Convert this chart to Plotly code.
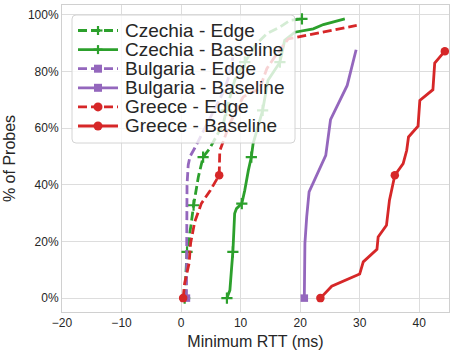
import plotly.graph_objects as go

# ---- data ----
czechia_edge_x = [0.6, 1.0, 1.7, 2.1, 2.9, 3.7, 4.8, 7.1, 7.6, 9.0, 10.7, 12.7, 14.4, 16.6, 18.3, 20.3]
czechia_edge_y = [0, 16.3, 26.3, 32.8, 42.8, 49.8, 52.8, 61.6, 66.3, 76.9, 83.3, 89.8, 93.4, 95.7, 98.1, 98.6]

czechia_base_x = [7.7, 8.2, 8.5, 8.7, 9.0, 9.3, 10.2, 10.7, 11.3, 11.8, 12.1, 13.2, 13.7, 14.6, 16.6, 17.4, 19.1, 22.2, 23.9, 27.5]
czechia_base_y = [0, 2.8, 11, 16.3, 29.9, 31.6, 33.4, 38.1, 45.1, 49.8, 54.6, 63, 66.3, 76.9, 83.3, 91, 93.9, 95.1, 96.6, 98.6]

bulgaria_edge_x = [0.9, 0.9, 1.0, 1.0, 1.2, 1.5, 2.3, 5.1, 7.1, 8.0, 8.7]
bulgaria_edge_y = [0, 10, 25, 40, 47, 50, 53, 64.6, 72.8, 78, 85]

bulgaria_base_x = [20.7, 20.7, 20.8, 21.1, 21.5, 24.3, 25.1, 27.9, 29.4]
bulgaria_base_y = [0, 8, 19.4, 28.7, 37.5, 50.4, 63, 75.1, 87.7]

greece_edge_x = [0.35, 0.6, 1.35, 1.6, 2.3, 3.4, 4.9, 6.4, 6.5, 8.2, 10.4, 13.2, 14.4, 16.0, 18.0, 29.5]
greece_edge_y = [0, 5.3, 12.3, 19.4, 27, 33.4, 38, 43.4, 52, 61.7, 71, 74, 81, 86, 91.5, 96.3]

greece_base_x = [23.4, 25.3, 30.0, 30.6, 32.9, 33.1, 34.5, 35.0, 35.9, 37.3, 37.9, 38.2, 39.8, 40.1, 42.3, 42.6, 44.3]
greece_base_y = [0, 4.2, 8.5, 12.8, 17.2, 21.6, 25.7, 34.6, 43.4, 47.5, 52.2, 56.9, 60.7, 69.8, 73.6, 83, 87.2]

series_names = ["Czechia - Edge", "Czechia - Baseline", "Bulgaria - Edge",
                "Bulgaria - Baseline", "Greece - Edge", "Greece - Baseline"]

x_ticks = [-20, -10, 0, 10, 20, 30, 40]
y_ticks = [0, 20, 40, 60, 80, 100]
y_tick_labels = ["0%", "20%", "40%", "60%", "80%", "100%"]

# ---- style ----
GREEN = "#2ca02c"
PURPLE = "#9467bd"
RED = "#d62728"
FONT = "Liberation Sans, Arial, sans-serif"
TXT = "#262626"
DASH = "9px,4px"
LW = 2.8

W, H = 454, 354
ML, MR, MT, MB = 62, 5, 5, 42
PW, PH = W - ML - MR, H - MT - MB

series = [
    (czechia_edge_x, czechia_edge_y, GREEN, DASH, "cross", [0, 1, 3, 5, 8, 10, 15]),
    (czechia_base_x, czechia_base_y, GREEN, "solid", "cross", [0, 3, 6, 9, 12, 14]),
    (bulgaria_edge_x, bulgaria_edge_y, PURPLE, DASH, "square", [0]),
    (bulgaria_base_x, bulgaria_base_y, PURPLE, "solid", "square", [0]),
    (greece_edge_x, greece_edge_y, RED, DASH, "circle", [0, 7]),
    (greece_base_x, greece_base_y, RED, "solid", "circle", [0, 8, 16]),
]


def marker_style(sym, color):
    if sym == "cross":
        return dict(symbol="cross-thin", size=8, color=color, line=dict(color=color, width=2.2))
    if sym == "square":
        return dict(symbol="square", size=7.5, color=color, line=dict(width=0))
    return dict(symbol="circle", size=8.5, color=color, line=dict(width=0))


fig = go.Figure()
for xs, ys, color, dash, sym, idx in series:
    fig.add_trace(go.Scatter(x=xs, y=ys, mode="lines", showlegend=False,
                             line=dict(color=color, width=LW, dash=dash)))
    fig.add_trace(go.Scatter(x=[xs[i] for i in idx], y=[ys[i] for i in idx], mode="markers",
                             showlegend=False, marker=marker_style(sym, color)))


# ---- hand-drawn legend box (pixel layout converted to paper coordinates) ----
def px(x):
    return (x - ML) / PW


def py(y):
    return (MT + PH - y) / PH


shapes = []
bx0, by0, bx1, by1, r = 72, 15, 295, 143, 4
path = (f"M{px(bx0 + r)},{py(by0)} L{px(bx1 - r)},{py(by0)} Q{px(bx1)},{py(by0)} {px(bx1)},{py(by0 + r)} "
        f"L{px(bx1)},{py(by1 - r)} Q{px(bx1)},{py(by1)} {px(bx1 - r)},{py(by1)} "
        f"L{px(bx0 + r)},{py(by1)} Q{px(bx0)},{py(by1)} {px(bx0)},{py(by1 - r)} "
        f"L{px(bx0)},{py(by0 + r)} Q{px(bx0)},{py(by0)} {px(bx0 + r)},{py(by0)} Z")
shapes.append(dict(type="path", xref="paper", yref="paper", path=path, layer="above",
                   fillcolor="rgba(255,255,255,0.8)", line=dict(color="#d4d4d4", width=1)))

annotations = []
row0, row_step = 30.5, 19.1
for k, ((xs, ys, color, dash, sym, idx), name) in enumerate(zip(series, series_names)):
    yc = row0 + k * row_step
    shapes.append(dict(type="line", xref="paper", yref="paper", layer="above",
                       x0=px(78), x1=px(118), y0=py(yc), y1=py(yc),
                       line=dict(color=color, width=LW, dash=dash)))
    cx = 98
    if sym == "cross":
        shapes.append(dict(type="line", xref="paper", yref="paper", layer="above",
                           x0=px(cx - 4.5), x1=px(cx + 4.5), y0=py(yc), y1=py(yc),
                           line=dict(color=color, width=2.2)))
        shapes.append(dict(type="line", xref="paper", yref="paper", layer="above",
                           x0=px(cx), x1=px(cx), y0=py(yc - 4.5), y1=py(yc + 4.5),
                           line=dict(color=color, width=2.2)))
    elif sym == "square":
        shapes.append(dict(type="rect", xref="paper", yref="paper", layer="above",
                           x0=px(cx - 4), x1=px(cx + 4), y0=py(yc - 4), y1=py(yc + 4),
                           fillcolor=color, line=dict(width=0)))
    else:
        shapes.append(dict(type="circle", xref="paper", yref="paper", layer="above",
                           x0=px(cx - 4.5), x1=px(cx + 4.5), y0=py(yc - 4.5), y1=py(yc + 4.5),
                           fillcolor=color, line=dict(width=0)))
    annotations.append(dict(text=name, xref="paper", yref="paper", x=px(123), y=py(yc),
                            xanchor="left", yanchor="middle", showarrow=False,
                            font=dict(size=19, color=TXT, family=FONT)))

fig.update_layout(
    width=W, height=H,
    margin=dict(l=ML, r=MR, t=MT, b=MB),
    paper_bgcolor="white", plot_bgcolor="white",
    font=dict(family=FONT, color=TXT),
    showlegend=False,
    shapes=shapes,
    annotations=annotations,
    xaxis=dict(range=[-20, 45], tickvals=x_ticks, ticktext=[str(v).replace("-", "\u2212") for v in x_ticks],
               showgrid=True, gridcolor="#dddddd", gridwidth=1, zeroline=False,
               showline=True, linecolor="#d0d0d0", linewidth=1, mirror=True,
               ticks="", tickfont=dict(size=12, color=TXT),
               title=dict(text="Minimum RTT (ms)", font=dict(size=16, color=TXT), standoff=6)),
    yaxis=dict(range=[-4.9, 103.5], tickvals=y_ticks, ticktext=y_tick_labels,
               showgrid=True, gridcolor="#dddddd", gridwidth=1, zeroline=False,
               showline=True, linecolor="#d0d0d0", linewidth=1, mirror=True,
               ticks="", tickfont=dict(size=12, color=TXT),
               title=dict(text="% of Probes", font=dict(size=16, color=TXT), standoff=8)),
)

fig.write_html("out.html")
